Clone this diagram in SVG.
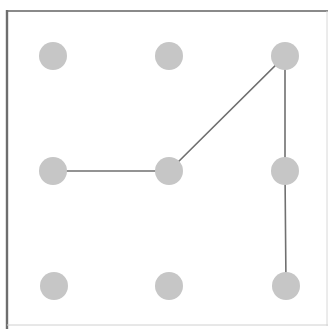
<svg xmlns="http://www.w3.org/2000/svg" width="330" height="329" viewBox="0 0 330 329">
<style>
.dot{fill:#c6c6c6}
.edge{stroke:#707070;stroke-width:1.6;fill:none}
</style>
<rect width="330" height="329" fill="#ffffff"/>
<g id="frame">
<line x1="7" y1="11" x2="328" y2="11" stroke="#8a8a8a" stroke-width="2"/>
<line x1="7" y1="10" x2="7" y2="329" stroke="#6e6e6e" stroke-width="2.4"/>
<line x1="327" y1="11" x2="327" y2="326" stroke="#d8d8d8" stroke-width="1"/>
<line x1="7" y1="325" x2="328" y2="325" stroke="#d0d0d0" stroke-width="1"/>
</g>
<g id="connectors">
<polyline class="edge" points="53,171 169,171 285,56 285,171 286,286"/>
</g>
<g id="n00"><circle class="dot" cx="53" cy="56" r="14"/></g>
<g id="n10"><circle class="dot" cx="169" cy="56" r="14"/></g>
<g id="n20"><circle class="dot" cx="285" cy="56" r="14"/></g>
<g id="n01"><circle class="dot" cx="53" cy="171" r="14"/></g>
<g id="n11"><circle class="dot" cx="169" cy="171" r="14"/></g>
<g id="n21"><circle class="dot" cx="285" cy="171" r="14"/></g>
<g id="n02"><circle class="dot" cx="54" cy="286" r="14"/></g>
<g id="n12"><circle class="dot" cx="169" cy="286" r="14"/></g>
<g id="n22"><circle class="dot" cx="286" cy="286" r="14"/></g>
</svg>
